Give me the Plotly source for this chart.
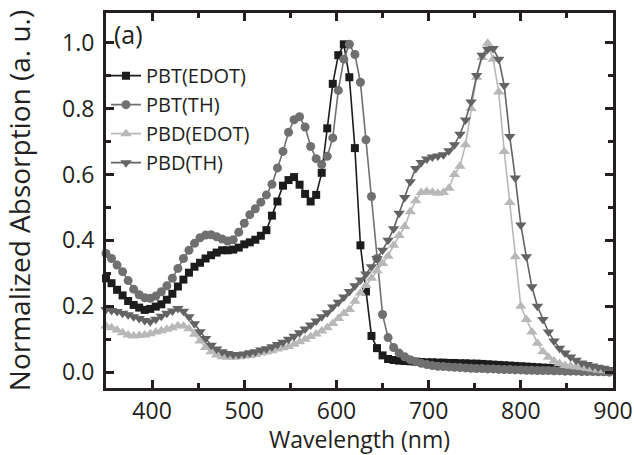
import plotly.graph_objects as go

wavelength = [350, 356, 362, 368, 374, 380, 386, 392, 398, 404, 410, 416, 422, 428, 434, 440,
              446, 452, 458, 464, 470, 476, 482, 488, 494, 500, 506, 512, 518, 524, 530, 536,
              542, 548, 554, 560, 566, 572, 578, 584, 590, 596, 602, 608, 614, 620, 626, 632,
              638, 644, 650, 656, 662, 668, 674, 680, 686, 692, 698, 704, 710, 716, 722, 728,
              734, 740, 746, 752, 758, 764, 770, 776, 782, 788, 794, 800, 806, 812, 818, 824,
              830, 836, 842, 848, 854, 860, 866, 872, 878, 884, 890, 896]

pbt_edot = [0.285, 0.27, 0.25, 0.233, 0.216, 0.204, 0.196, 0.189, 0.192, 0.199, 0.206, 0.22, 0.238, 0.26, 0.281, 0.302,
            0.32, 0.332, 0.345, 0.355, 0.363, 0.37, 0.37, 0.372, 0.378, 0.388, 0.394, 0.402, 0.414, 0.431, 0.475, 0.518,
            0.566, 0.583, 0.592, 0.569, 0.541, 0.518, 0.538, 0.605, 0.74, 0.875, 0.962, 0.995, 0.895, 0.68, 0.385, 0.245,
            0.11, 0.073, 0.051, 0.04, 0.037, 0.035, 0.034, 0.033, 0.032, 0.031, 0.030, 0.030, 0.029, 0.029, 0.028, 0.028,
            0.027, 0.027, 0.026, 0.026, 0.025, 0.024, 0.023, 0.022, 0.021, 0.02, 0.019, 0.018, 0.017, 0.016, 0.015, 0.014,
            0.013, 0.012, 0.011, None, None, None, None, None, None, None, None, None]

pbt_th = [0.36, 0.345, 0.325, 0.305, 0.278, 0.252, 0.235, 0.226, 0.224, 0.231, 0.244, 0.262, 0.285, 0.315, 0.345, 0.37,
          0.391, 0.408, 0.416, 0.417, 0.411, 0.404, 0.398, 0.402, 0.425, 0.452, 0.478, 0.496, 0.516, 0.538, 0.57, 0.62,
          0.67, 0.728, 0.766, 0.775, 0.744, 0.685, 0.648, 0.63, 0.655, 0.711, 0.855, 0.95, 0.995, 0.964, 0.88, 0.705,
          0.533, 0.345, 0.175, 0.105, 0.075, 0.058, 0.047, 0.038, 0.032, 0.027, 0.023, 0.02, 0.018, 0.017, 0.016, 0.015,
          0.014, 0.013, 0.012, 0.011, 0.011, 0.01, 0.01, 0.009, 0.008, 0.008, 0.007, 0.007, 0.006, 0.006, 0.005, 0.005,
          0.005, 0.004, 0.004, 0.003, 0.003, 0.003, 0.002, 0.002, 0.002, 0.001, 0.001, 0.0]

pbd_edot = [0.14, 0.135, 0.128, 0.12, 0.113, 0.11, 0.111, 0.113, 0.117, 0.122, 0.126, 0.13, 0.135, 0.141, 0.14, 0.132,
            0.115, 0.095, 0.075, 0.062, 0.052, 0.047, 0.045, 0.045, 0.047, 0.049, 0.051, 0.054, 0.058, 0.061, 0.065, 0.07,
            0.074, 0.078, 0.085, 0.092, 0.1, 0.108, 0.116, 0.125, 0.135, 0.148, 0.163, 0.178, 0.19, 0.215, 0.24, 0.263,
            0.285, 0.308, 0.33, 0.352, 0.385, 0.415, 0.442, 0.487, 0.52, 0.545, 0.548, 0.546, 0.543, 0.545, 0.558, 0.6,
            0.625, 0.69, 0.8, 0.895, 0.955, 0.998, 0.95, 0.85, 0.67, 0.515, 0.35, 0.2, 0.16, 0.122, 0.088, 0.062,
            0.045, 0.034, 0.026, 0.02, 0.018, 0.016, 0.014, 0.011, 0.009, 0.006, 0.004, 0.002]

pbd_th = [0.19, 0.187, 0.184, 0.179, 0.174, 0.168, 0.163, 0.157, 0.153, 0.161, 0.17, 0.179, 0.186, 0.193, 0.185, 0.168,
          0.147, 0.123, 0.102, 0.082, 0.07, 0.062, 0.057, 0.054, 0.054, 0.055, 0.059, 0.062, 0.067, 0.071, 0.077, 0.084,
          0.091, 0.1, 0.109, 0.12, 0.131, 0.143, 0.155, 0.168, 0.18, 0.198, 0.212, 0.228, 0.245, 0.262, 0.28, 0.298,
          0.32, 0.345, 0.37, 0.4, 0.435, 0.482, 0.53, 0.578, 0.618, 0.636, 0.647, 0.653, 0.656, 0.66, 0.672, 0.69,
          0.722, 0.765, 0.82, 0.9, 0.962, 0.98, 0.982, 0.95, 0.87, 0.715, 0.589, 0.447, 0.35, 0.259, 0.2, 0.16,
          0.122, 0.095, 0.073, 0.058, 0.046, 0.036, 0.028, 0.023, 0.019, 0.015, 0.012, 0.008]

series_names = ["PBT(EDOT)", "PBT(TH)", "PBD(EDOT)", "PBD(TH)"]
series_values = [pbt_edot, pbt_th, pbd_edot, pbd_th]
series_colors = ["#1c1c1c", "#707070", "#b8b8b8", "#636363"]
series_symbols = ["square", "circle", "triangle-up", "triangle-down"]
series_sizes = [8, 9, 10, 10]

x_ticks = [400, 500, 600, 700, 800, 900]
y_ticks = [0.0, 0.2, 0.4, 0.6, 0.8, 1.0]

FONT = "Open Sans"
INK = "#231f20"

fig = go.Figure()
for name, vals, col, sym, sz in zip(series_names, series_values, series_colors, series_symbols, series_sizes):
    fig.add_trace(go.Scatter(
        x=wavelength, y=vals, name=name, mode="lines+markers",
        line=dict(color=col, width=1.6),
        marker=dict(symbol=sym, size=sz, color=col, line=dict(width=0)),
        cliponaxis=False,
    ))

axis_common = dict(
    showline=True, linecolor=INK, linewidth=3, mirror="allticks",
    ticks="inside", ticklen=8, tickwidth=2.5, tickcolor=INK,
    showgrid=False, zeroline=False, automargin=False,
    tickfont=dict(family=FONT, size=23, color=INK),
)

fig.update_xaxes(
    range=[350, 900], tickvals=x_ticks,
    minor=dict(ticks="inside", ticklen=5, tickwidth=2.5, tickcolor=INK, dtick=50, tick0=350, showgrid=False),
    title=dict(text="Wavelength (nm)", font=dict(family=FONT, size=23, color=INK), standoff=10),
    **axis_common,
)
fig.update_yaxes(
    range=[-0.048, 1.09], tickvals=y_ticks, tickformat=".1f", ticklabelstandoff=4,
    minor=dict(ticks="inside", ticklen=5, tickwidth=2.5, tickcolor=INK, dtick=0.1, tick0=0, showgrid=False),
    title=dict(text="Normalized Absorption (a. u.)", font=dict(family=FONT, size=28, color=INK), standoff=28),
    **axis_common,
)

fig.add_annotation(x=0.012, y=0.995, xref="paper", yref="paper", text="(a)", showarrow=False,
                   xanchor="left", yanchor="top", font=dict(family=FONT, size=25, color=INK))

fig.update_layout(
    width=634, height=455,
    margin=dict(l=106, r=21, t=13, b=67),
    paper_bgcolor="white", plot_bgcolor="white",
    showlegend=True,
    legend=dict(x=0.0, y=0.885, xanchor="left", yanchor="top", bgcolor="rgba(0,0,0,0)",
                font=dict(family=FONT, size=20, color=INK), itemwidth=30,
                tracegroupgap=0, borderwidth=0),
)

fig.write_html("out.html", config={"displayModeBar": False},
               post_script="document.body.style.margin='0px';")
